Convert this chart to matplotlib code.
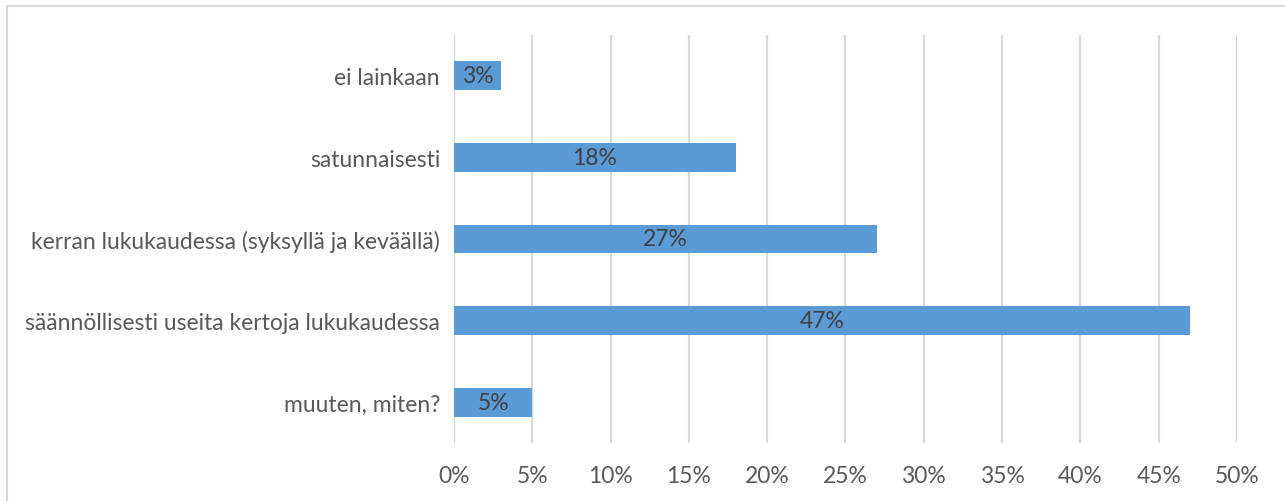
import matplotlib
matplotlib.use("Agg")
import matplotlib.pyplot as plt
from matplotlib.lines import Line2D
from matplotlib.ticker import FuncFormatter, MultipleLocator

categories = [
    "ei lainkaan",
    "satunnaisesti",
    "kerran lukukaudessa (syksyllä ja keväällä)",
    "säännöllisesti useita kertoja lukukaudessa",
    "muuten, miten?",
]
values = [3, 18, 27, 47, 5]
bar_labels = ["3%", "18%", "27%", "47%", "5%"]

plt.rcParams['font.family'] = ['Lato', 'DejaVu Sans']
FS = 16.5

W, H = 1285, 502
fig = plt.figure(figsize=(W / 100, H / 100), dpi=100)
ax = fig.add_axes([454 / W, 1 - 444 / H, (1237 - 454) / W, (444 - 36) / H])

ypos = list(range(len(categories)))
ax.barh(ypos, values, height=0.355, color="#5B9BD5", zorder=3)
for y, v, lab in zip(ypos, values, bar_labels):
    ax.text(v / 2, y, lab, ha="center", va="center", fontsize=FS, color="#404040", zorder=4)

ax.set_yticks(ypos)
ax.set_yticklabels(categories, fontsize=FS, color="#595959")
ax.set_ylim(len(categories) - 0.5, -0.5)
ax.set_xlim(0, 50)
ax.xaxis.set_major_locator(MultipleLocator(5))
ax.xaxis.set_major_formatter(FuncFormatter(lambda x, p: f"{int(round(x))}%"))
ax.tick_params(axis="x", labelsize=FS, labelcolor="#595959", length=0, pad=16)
ax.tick_params(axis="y", length=0, pad=10)
ax.grid(axis="x", color="#D9D9D9", linewidth=1.6, zorder=0)
for s in ax.spines.values():
    s.set_visible(False)
ax.axvline(0, color="#D9D9D9", linewidth=1.6, zorder=1)

# figure border (left and top visible)
fig.add_artist(Line2D([6.5 / W, 6.5 / W], [0, 1 - 6.5 / H], color="#D9D9D9", linewidth=1.5, transform=fig.transFigure))
fig.add_artist(Line2D([6.5 / W, 1], [1 - 6.5 / H, 1 - 6.5 / H], color="#D9D9D9", linewidth=1.5, transform=fig.transFigure))

fig.savefig("out.png", dpi=100)
